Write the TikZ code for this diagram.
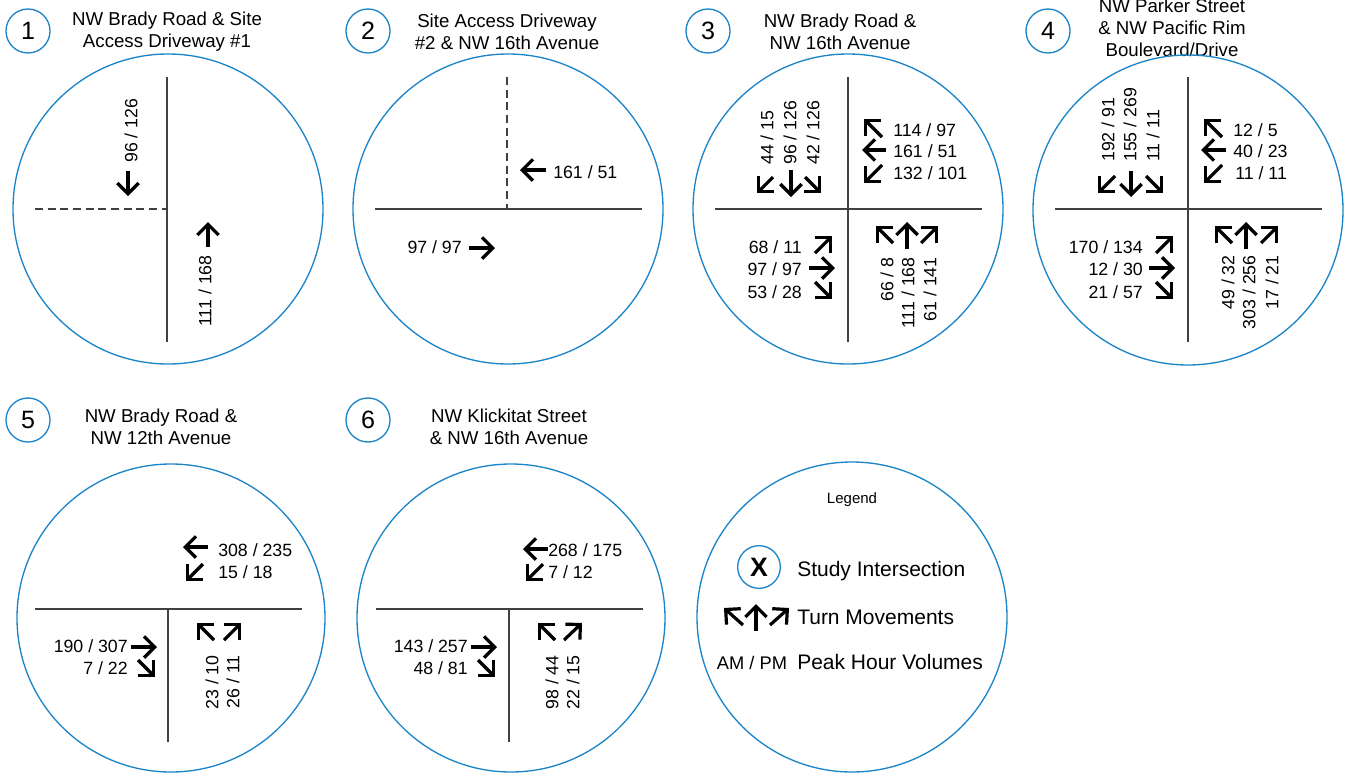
\documentclass[tikz,border=0pt]{standalone}
\usepackage{fontspec}
\setmainfont{Liberation Sans}
\usepackage{tikz}
\usetikzlibrary{arrows.meta, positioning}
\usepackage{xcolor}
\definecolor{ringblue}{RGB}{28,132,200}

\tikzset{
  ring/.style={draw=ringblue, line width=1pt},
  road/.style={draw=black!75, line width=1.1pt},
  drive/.style={road, dash pattern=on 6pt off 3.5pt},
  mv/.style={line width=2.4pt, -{Straight Barb[length=8pt, width=16pt, sharp]}},
  vol/.style={font=\fontsize{13.3}{16}\selectfont, inner sep=0pt, text height=9.5pt, text depth=0pt},
  ttl/.style={font=\fontsize{14}{16.5}\selectfont, align=center, inner sep=0pt},
  idx/.style={circle, draw=ringblue, line width=1pt, minimum size=33pt, inner sep=0pt, font=\fontsize{18.8}{20}\selectfont},
}

\begin{document}
\begin{tikzpicture}[x=0.75pt, y=-0.75pt]
  \useasboundingbox (0,0) rectangle (1347,776);

  % ---------- 1: NW Brady Road & Site Access Driveway #1
  \node[idx] (n1) at (28,31) {1};
  \node[ttl] (t1) at (167,32) {NW Brady Road \& Site\\Access Driveway \#1};
  \draw[ring] (168,209) circle[radius=155];
  \draw[road] (167,77) -- (167,342);
  \draw[drive] (35,209) -- (167,209);
  \draw[mv] (128,171) -- (128,196);
  \draw[mv] (208,247) -- (208,222);
  \node[vol, rotate=90, anchor=west] (v1s) at (131,163) {96 / 126};
  \node[vol, rotate=90, anchor=east] (v1n) at (205,255) {111 / 168};

  % ---------- 2: Site Access Driveway #2 & NW 16th Avenue
  \node[idx] (n2) at (368,31) {2};
  \node[ttl] (t2) at (507,32) {Site Access Driveway\\\#2 \& NW 16th Avenue};
  \draw[ring] (508,209) circle[radius=155];
  \draw[drive] (507,77) -- (507,209);
  \draw[road] (375,209) -- (642,209);
  \draw[mv] (546,170) -- (520,170);
  \draw[mv] (469,248) -- (495,248);
  \node[vol, anchor=west] (v2w) at (553,172) {161 / 51};
  \node[vol, anchor=east] (v2e) at (462,247) {97 / 97};

  % ---------- 3: NW Brady Road & NW 16th Avenue
  \node[idx] (n3) at (708,31) {3};
  \node[ttl] (t3) at (840,32) {NW Brady Road \&\\NW 16th Avenue};
  \draw[ring] (848,209) circle[radius=155];
  \draw[road] (848,77) -- (848,342);
  \draw[road] (715,209) -- (982,209);
  % southbound
  \draw[mv] (773,177) -- (757,193);
  \draw[mv] (791,170) -- (791,197);
  \draw[mv] (805,177) -- (821,193);
  \node[vol, rotate=90, anchor=west] (v3s1) at (767,165) {44 / 15};
  \node[vol, rotate=90, anchor=west] (v3s2) at (790,165) {96 / 126};
  \node[vol, rotate=90, anchor=west] (v3s3) at (813,165) {42 / 126};
  % westbound
  \draw[mv] (882,137) -- (864,119);
  \draw[mv] (886,150) -- (862,150);
  \draw[mv] (882,165) -- (864,183);
  \node[vol, anchor=west] (v3w1) at (893,130) {114 / 97};
  \node[vol, anchor=west] (v3w2) at (893,151) {161 / 51};
  \node[vol, anchor=west] (v3w3) at (893,173) {132 / 101};
  % eastbound
  \draw[mv] (815,253) -- (832,236);
  \draw[mv] (809,268) -- (835,268);
  \draw[mv] (815,282) -- (832,299);
  \node[vol, anchor=east] (v3e1) at (802,247) {68 / 11};
  \node[vol, anchor=east] (v3e2) at (802,269) {97 / 97};
  \node[vol, anchor=east] (v3e3) at (802,292) {53 / 28};
  % northbound
  \draw[mv] (893,243) -- (876,226);
  \draw[mv] (907,249) -- (907,222);
  \draw[mv] (921,243) -- (938,226);
  \node[vol, rotate=90, anchor=east] (v3n1) at (887,257) {66 / 8};
  \node[vol, rotate=90, anchor=east] (v3n2) at (908,257) {111 / 168};
  \node[vol, rotate=90, anchor=east] (v3n3) at (930,257) {61 / 141};

  % ---------- 4: NW Parker Street & NW Pacific Rim Boulevard/Drive
  \node[idx] (n4) at (1048,31) {4};
  \node[ttl] (t4) at (1172,28) {NW Parker Street\\\& NW Pacific Rim\\Boulevard/Drive};
  \draw[ring] (1188,210) circle[radius=155];
  \draw[road] (1188,77) -- (1188,342);
  \draw[road] (1055,209) -- (1322,209);
  % southbound
  \draw[mv] (1115,176) -- (1098,193);
  \draw[mv] (1131,171) -- (1131,197);
  \draw[mv] (1146,176) -- (1163,193);
  \node[vol, rotate=90, anchor=west] (v4s1) at (1108,162) {192 / 91};
  \node[vol, rotate=90, anchor=west] (v4s2) at (1130,162) {155 / 269};
  \node[vol, rotate=90, anchor=west] (v4s3) at (1153,162) {11 / 11};
  % westbound
  \draw[mv] (1222,137) -- (1204,119);
  \draw[mv] (1226,150) -- (1201,150);
  \draw[mv] (1222,165) -- (1204,183);
  \node[vol, anchor=west] (v4w1) at (1233,130) {12 / 5};
  \node[vol, anchor=west] (v4w2) at (1233,151) {40 / 23};
  \node[vol, anchor=west] (v4w3) at (1235,173) {11 / 11};
  % eastbound
  \draw[mv] (1156,253) -- (1173,236);
  \draw[mv] (1149,268) -- (1175,268);
  \draw[mv] (1156,282) -- (1173,299);
  \node[vol, anchor=east] (v4e1) at (1143,247) {170 / 134};
  \node[vol, anchor=east] (v4e2) at (1143,269) {12 / 30};
  \node[vol, anchor=east] (v4e3) at (1143,292) {21 / 57};
  % northbound
  \draw[mv] (1232,243) -- (1215,226);
  \draw[mv] (1246,249) -- (1246,222);
  \draw[mv] (1261,243) -- (1278,226);
  \node[vol, rotate=90, anchor=east] (v4n1) at (1228,255) {49 / 32};
  \node[vol, rotate=90, anchor=east] (v4n2) at (1249,255) {303 / 256};
  \node[vol, rotate=90, anchor=east] (v4n3) at (1272,255) {17 / 21};

  % ---------- 5: NW Brady Road & NW 12th Avenue
  \node[idx] (n5) at (28,420) {5};
  \node[ttl] (t5) at (161,427) {NW Brady Road \&\\NW 12th Avenue};
  \draw[ring] (171,618) circle[radius=154];
  \draw[road] (35,609) -- (302,609);
  \draw[road] (168,609) -- (168,742);
  \draw[mv] (208,547) -- (183,547);
  \draw[mv] (203,564) -- (186,581);
  \node[vol, anchor=west] (v5w1) at (218,550) {308 / 235};
  \node[vol, anchor=west] (v5w2) at (218,572) {15 / 18};
  \draw[mv] (131,647) -- (157,647);
  \draw[mv] (138,660) -- (155,677);
  \node[vol, anchor=east] (v5e1) at (128,646) {190 / 307};
  \node[vol, anchor=east] (v5e2) at (128,668) {7 / 22};
  \draw[mv] (214,640) -- (197,623);
  \draw[mv] (224,640) -- (241,623);
  \node[vol, rotate=90, anchor=east] (v5n1) at (212,655) {23 / 10};
  \node[vol, rotate=90, anchor=east] (v5n2) at (233,655) {26 / 11};

  % ---------- 6: NW Klickitat Street & NW 16th Avenue
  \node[idx] (n6) at (368,420) {6};
  \node[ttl] (t6) at (509,427) {NW Klickitat Street\\\& NW 16th Avenue};
  \draw[ring] (511,618) circle[radius=154];
  \draw[road] (376,609) -- (643,609);
  \draw[road] (509,609) -- (509,742);
  \draw[mv] (548,549) -- (523,549);
  \draw[mv] (543,564) -- (526,581);
  \node[vol, anchor=west] (v6w1) at (548,550) {268 / 175};
  \node[vol, anchor=west] (v6w2) at (548,572) {7 / 12};
  \draw[mv] (471,647) -- (497,647);
  \draw[mv] (478,660) -- (495,677);
  \node[vol, anchor=east] (v6e1) at (468,646) {143 / 257};
  \node[vol, anchor=east] (v6e2) at (468,668) {48 / 81};
  \draw[mv] (555,640) -- (538,623);
  \draw[mv] (564,640) -- (582,623);
  \node[vol, rotate=90, anchor=east] (v6n1) at (552,655) {98 / 44};
  \node[vol, rotate=90, anchor=east] (v6n2) at (573,655) {22 / 15};

  % ---------- legend
  \draw[ring] (852,617) circle[radius=155];
  \node[font=\fontsize{11.25}{13}\selectfont] (lg) at (852,500) {Legend};
  \node[idx, minimum size=32pt, font=\fontsize{20}{22}\selectfont\bfseries] (lx) at (759,567) {X};
  \node[font=\fontsize{15.75}{18}\selectfont, anchor=west, inner sep=0pt] (l1) at (797,571) {Study Intersection};
  \draw[mv] (743,625) -- (724,608);
  \draw[mv] (756,631) -- (756,604);
  \draw[mv] (770,625) -- (789,608);
  \node[font=\fontsize{15.75}{18}\selectfont, anchor=west, inner sep=0pt] (l2) at (797,617) {Turn Movements};
  \node[font=\fontsize{13.7}{16}\selectfont, inner sep=0pt] (l3) at (752,663) {AM / PM};
  \node[font=\fontsize{15.75}{18}\selectfont, anchor=west, inner sep=0pt] (l4) at (797,662) {Peak Hour Volumes};
\end{tikzpicture}
\end{document}
